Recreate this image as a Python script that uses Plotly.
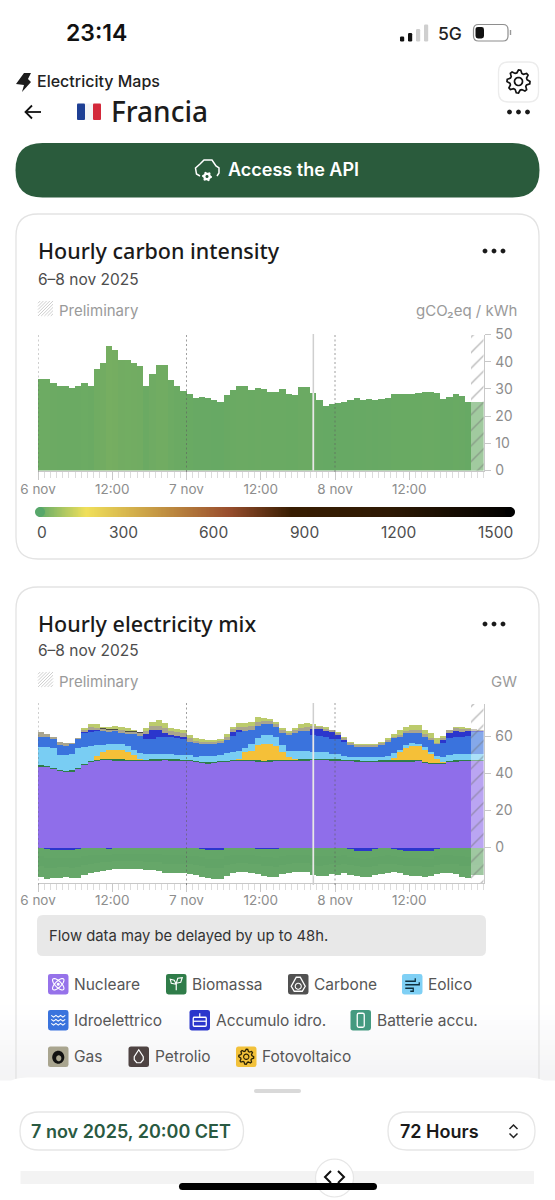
import math
import pandas as pd
import plotly.graph_objects as go

W, H = 555, 1200

hours = pd.date_range("2025-11-06", periods=72, freq="h").strftime("%Y-%m-%d %H:%M").tolist()
tick_vals = ["2025-11-06 00:00", "2025-11-06 12:00", "2025-11-07 00:00", "2025-11-07 12:00", "2025-11-08 00:00", "2025-11-08 12:00"]
tick_text = ["6 nov", "12:00", "7 nov", "12:00", "8 nov", "12:00"]

carbon = [33.5,33.8,32.0,31.0,31.0,30.5,31.0,32.2,31.2,37.4,39.6,45.7,
          44.2,40.6,40.8,39.7,38.6,31.1,35.5,38.7,38.7,33.1,31.2,29.4,
          28.0,26.8,27.0,26.8,26.0,25.2,27.7,29.5,30.9,31.2,29.7,30.4,
          29.9,29.0,29.0,30.1,28.0,27.9,30.6,30.6,28.6,25.9,23.7,24.6,
          24.9,25.2,26.1,26.8,26.0,26.4,26.1,26.2,26.8,28.2,28.3,28.3,
          28.2,28.4,28.8,28.9,28.4,26.2,27.2,28.2,27.5,25.1,25.1,25.1]

nuclear = [43.8,43.3,42.5,41.5,40.9,41.1,42.5,44.7,46.0,46.9,47.2,47.2,
           47.0,47.0,46.9,46.7,46.7,46.9,47.0,47.0,47.2,47.0,47.0,46.9,
           46.7,46.2,45.6,45.4,45.6,46.0,46.3,46.7,46.9,46.9,46.7,46.5,
           46.3,46.5,46.7,46.7,46.9,46.9,47.0,47.0,47.1,47.2,47.1,47.0,
           47.0,46.9,46.9,46.5,46.3,46.3,46.3,46.4,46.4,46.5,46.5,46.5,
           46.5,46.7,45.8,45.2,45.0,45.2,46.1,46.5,46.7,46.7,46.7,46.7]
biomass = [0.7,0.7,0.7,0.7,0.7,0.7,0.7,0.7,0.7,0.7,0.7,0.7,
           0.7,0.7,0.7,0.7,0.7,0.7,0.7,0.7,0.7,0.7,0.7,0.7,
           0.7,0.7,0.7,0.7,0.7,0.7,0.7,0.7,0.7,0.7,0.7,0.7,
           0.7,0.7,0.7,0.7,0.7,0.7,0.7,0.7,0.7,0.7,0.7,0.7,
           0.7,0.7,0.7,0.7,0.7,0.7,0.7,0.7,0.7,0.7,0.7,0.7,
           0.7,0.7,0.7,0.7,0.7,0.7,0.7,0.7,0.7,0.7,0.7,0.7]
solar = [0,0,0,0,0,0,0,0,0.3,2.0,3.8,5.0,
         5.2,5.0,4.2,2.4,0.7,0,0,0,0,0,0,0,
         0,0,0,0,0,0,0,0,0.3,3.8,5.0,8.0,
         8.8,8.8,7.6,4.2,1.6,0.2,0,0,0,0,0,0,
         0,0,0,0,0,0,0,0,0,1.0,4.3,6.7,
         7.7,7.5,6.3,4.5,2.0,0.5,0,0,0,0,0,0]
wind = [10.1,10.6,10.5,7.9,8.5,8.6,10.5,9.2,8.1,5.9,3.8,3.2,
        3.2,3.4,2.9,3.1,2.9,2.9,2.7,2.7,2.5,2.7,2.5,2.7,
        2.7,2.3,3.4,3.6,3.4,3.4,4.0,4.5,4.3,2.3,3.4,4.0,
        5.0,4.9,4.5,4.0,3.1,4.5,4.5,4.5,4.1,4.0,3.6,3.1,
        2.7,1.8,1.4,1.6,1.8,1.8,1.8,2.0,2.3,2.7,1.3,1.6,
        1.4,1.2,1.8,1.4,2.0,2.7,3.2,3.6,3.4,3.4,3.4,3.4]
hydro = [5.4,5.4,4.9,5.4,5.0,5.4,4.9,7.2,7.6,7.6,7.6,6.5,
         6.7,6.1,6.8,8.5,9.5,8.3,8.3,9.5,9.5,9.2,8.8,8.5,
         7.2,7.2,6.3,6.3,6.3,6.3,7.2,8.6,10.5,9.4,7.7,6.3,
         5.8,5.8,5.8,6.3,8.3,9.9,10.8,10.8,9.2,8.6,8.5,8.1,
         8.3,7.7,6.5,5.8,5.8,5.8,5.8,6.5,7.9,8.1,7.2,6.3,
         5.9,5.8,5.4,6.3,6.1,7.2,9.0,8.8,9.2,9.7,11.5,11.5]
storage_gen = [0,0,0,0,0,0,0,0.5,0.9,0.3,0,0,
               0,0,0,0,0,2.5,4.9,3.6,2.3,1.3,1.3,1.1,
               0,0,0,0,0,0,0,2.2,0.9,0,0,0,
               0,0,0,0,0,0,0,0,3.2,3.4,3.2,3.6,
               2.2,0.9,0,0,0,0,0,0,0,0,0,0,
               0,0,0,0,0,1.8,3.2,3.4,2.7,2.5,0.7,0.5]
gas = [2.3,1.4,1.1,1.3,1.3,0.9,0.6,1.3,1.4,1.4,1.0,1.0,
       1.0,1.1,1.2,1.2,1.3,1.7,1.9,2.3,2.3,2.3,2.2,2.2,
       1.8,1.3,1.2,1.1,1.1,1.1,1.5,1.5,1.8,2.0,2.0,2.2,
       2.0,1.8,1.6,1.6,1.5,1.6,1.8,2.0,1.5,1.2,1.1,1.0,
       1.0,1.0,1.0,0.9,0.9,0.9,0.9,0.8,0.8,0.9,1.1,1.3,
       1.5,1.5,1.3,1.0,0.8,1.0,1.3,1.5,1.6,1.3,0.9,0.6]
coal = [0,0,0,0,0,0,0,0,0,0,0.4,0.4,
        0.4,0.4,0.5,0.5,0.5,0,0,0,0,0,0,0,
        0,0,0,0,0,0,0,0,0,0,0,0,
        0,0,0,0,0,0,0,0,0,0,0,0,
        0,0,0,0,0,0,0,0,0,0,0,0,
        0,0,0,0,0,0,0,0,0,0,0,0]
imports = [0,0,0,0,0,0,0,1.2,1.8,1.8,0.9,1.1,
           1.5,1.5,1.3,0.6,0,1.5,2.2,2.9,2.6,1.3,1.4,1.2,
           1.8,1.4,1.5,1.1,1.1,1.1,1.6,1.2,1.8,2.5,2.5,2.7,
           1.6,1.1,1.1,1.1,1.0,1.1,1.8,2.3,1.2,0.8,1.1,0.3,
           0.4,0.8,0.8,0.7,0.7,0.7,0.7,0.5,1.0,1.3,2.5,2.3,
           2.5,2.6,2.3,2.6,2.4,1.3,0.3,0.5,0.7,0.3,0.2,0.1]
storage_pump = [0,-1.0,-1.1,-1.1,-1.1,-1.1,-1.0,0,0,0,0,-0.6,
                0,0,0,0,0,0,0,0,0,0,0,0,
                0,0,-0.6,-1.3,-1.5,-1.5,-0.3,0,0,0,0,-0.5,
                -0.9,-0.9,-1.0,-0.4,0,0,0,0,0,0,0,0,
                0,0,-0.8,-1.6,-2.0,-1.6,-0.9,0,0,-0.8,-1.5,-1.6,
                -1.8,-1.8,-2.0,-1.8,-0.8,0,0,0,0,0,0,0]
export_a = [-4.8,-4.8,-4.7,-4.6,-4.5,-4.6,-4.6,-4.4,-4.1,-4.0,-3.8,-3.4,
            -3.5,-3.5,-3.4,-3.4,-3.5,-3.6,-3.6,-3.7,-4.2,-4.2,-4.1,-4.1,
            -4.3,-4.4,-4.5,-4.6,-4.6,-4.6,-4.4,-4.2,-3.9,-4.0,-4.2,-4.1,
            -4.3,-4.4,-4.5,-4.2,-4.1,-3.9,-3.9,-3.9,-4.4,-4.7,-4.6,-4.3,
            -4.4,-4.2,-4.2,-4.1,-4.1,-4.2,-4.2,-4.3,-4.1,-3.8,-3.7,-4.0,
            -4.0,-4.0,-4.1,-4.1,-4.0,-4.2,-4.2,-4.3,-4.7,-4.9,-4.4,-4.4]
export_b = [-5.3,-5.3,-5.1,-5.0,-5.0,-5.1,-5.0,-4.9,-4.5,-4.4,-4.2,-3.7,
            -3.8,-3.8,-3.8,-3.8,-3.9,-4.0,-4.0,-4.1,-4.6,-4.6,-4.5,-4.5,
            -4.8,-4.9,-5.0,-5.0,-5.1,-5.0,-4.9,-4.6,-4.3,-4.4,-4.6,-4.5,
            -4.8,-4.9,-4.9,-4.6,-4.5,-4.3,-4.3,-4.3,-4.9,-5.1,-5.0,-4.7,
            -4.9,-4.6,-4.6,-4.5,-4.5,-4.7,-4.6,-4.7,-4.5,-4.1,-4.1,-4.4,
            -4.4,-4.4,-4.5,-4.5,-4.4,-4.6,-4.6,-4.7,-5.2,-5.3,-4.9,-4.9]
export_c = [-5.9,-6.0,-5.8,-5.6,-5.5,-5.7,-5.6,-5.5,-4.9,-4.9,-4.6,-4.2,
            -4.2,-4.2,-4.2,-4.2,-4.3,-4.5,-4.5,-4.6,-5.1,-5.1,-4.9,-5.1,
            -5.3,-5.5,-5.6,-5.7,-5.7,-5.7,-5.5,-5.1,-4.8,-4.9,-5.1,-5.0,
            -5.3,-5.5,-5.5,-5.2,-4.9,-4.8,-4.8,-4.8,-5.5,-5.7,-5.7,-5.2,
            -5.5,-5.1,-5.2,-5.1,-5.1,-5.2,-5.1,-5.2,-4.9,-4.6,-4.6,-4.8,
            -4.9,-4.9,-5.1,-4.9,-5.0,-5.1,-5.1,-5.2,-5.8,-6.0,-5.5,-5.5]

scale_levels = list(range(0, 1501, 5))
scale_labels = [("0", 42), ("300", 123), ("600", 213), ("900", 304), ("1200", 398), ("1500", 495)]

legend_rows = [
    ("Nucleare", 48, 974), ("Biomassa", 166, 974), ("Carbone", 288, 974), ("Eolico", 402, 974),
    ("Idroelettrico", 48, 1010), ("Accumulo idro.", 189.5, 1010), ("Batterie accu.", 350.5, 1010),
    ("Gas", 48, 1046.5), ("Petrolio", 128.5, 1046.5), ("Fotovoltaico", 236, 1046.5),
]

HOUR_MS = 3600000
TXT = "Inter, sans-serif"
HEAD = "'Noto Sans', sans-serif"
GREY = "#8d8d8d"
AXIS = "#c8c8c8"

def X(v): return v / W
def Y(v): return 1 - v / H

shapes, notes = [], []

def text(s, x, y, size, color="#222", font=TXT, weight=400, anchor="left"):
    notes.append(dict(text=s, x=X(x), y=Y(y), xref="paper", yref="paper", xanchor=anchor, yanchor="middle",
                      showarrow=False, borderpad=0, borderwidth=0,
                      font=dict(family=font, size=size, color=color, weight=weight)))

def path(d, fill=None, line=None, lw=1.0, layer="above"):
    s = dict(type="path", path=d, xref="paper", yref="paper", layer=layer,
             line=dict(color=line or "rgba(0,0,0,0)", width=lw if line else 0))
    if fill:
        s["fillcolor"] = fill
    shapes.append(s)

def P(x, y): return f"{X(x):.5f},{Y(y):.5f}"

def rr(x0, y0, x1, y1, r, fill=None, line=None, lw=1.0, layer="above"):
    d = (f"M{P(x0+r,y0)} L{P(x1-r,y0)} Q{P(x1,y0)} {P(x1,y0+r)} L{P(x1,y1-r)} Q{P(x1,y1)} {P(x1-r,y1)} "
         f"L{P(x0+r,y1)} Q{P(x0,y1)} {P(x0,y1-r)} L{P(x0,y0+r)} Q{P(x0,y0)} {P(x0+r,y0)} Z")
    path(d, fill, line, lw, layer)

def poly(pts, fill=None, line=None, lw=1.0, close=True, layer="above"):
    d = "M" + " L".join(P(*p) for p in pts) + (" Z" if close else "")
    path(d, fill, line, lw, layer)

def ell(cx, cy, a, b, rot=0, fill=None, line=None, lw=1.0):
    pts = []
    for i in range(36):
        t = 2 * math.pi * i / 36
        ex, ey = a * math.cos(t), b * math.sin(t)
        c, s = math.cos(rot), math.sin(rot)
        pts.append((cx + ex * c - ey * s, cy + ex * s + ey * c))
    poly(pts, fill, line, lw)

def gear(cx, cy, r, teeth, fill=None, line=None, lw=1.0):
    pts = []
    for i in range(teeth * 4):
        t = 2 * math.pi * i / (teeth * 4)
        rad = r if i % 4 in (0, 1) else r * 0.76
        pts.append((cx + rad * math.cos(t), cy + rad * math.sin(t)))
    poly(pts, fill, line, lw)

def dots(cx, cy):
    for dx in (-9, 0, 9):
        ell(cx + dx, cy, 2.4, 2.4, fill="#1a1a1a")

def hatch_icon(x, y):
    for i in range(5):
        poly([(x + i * 3.2, y + 15), (x + 15, y + i * 3.2)], line="#cfcfcf", lw=1, close=False)
        poly([(x, y + 15 - i * 3.2), (x + 15 - i * 3.2, y)], line="#cfcfcf", lw=1, close=False)

# fade behind the bottom sheet
for i in range(16):
    v = 255 - i * 0.75
    y0 = 1000 + i * 5
    shapes.append(dict(type="rect", xref="paper", yref="paper", x0=0, x1=1, y0=Y(y0), y1=Y(y0 + 5.5),
                       fillcolor=f"rgb({v:.0f},{v:.0f},{min(255, v+1):.0f})", line_width=0, layer="below"))

# status bar
text("23:14", 66, 33, 23, "#111", weight=600)
for x0, top, col in [(400, 36.5, "#111"), (408, 33, "#111"), (416, 29, "#cfcfcf"), (424, 24.5, "#cfcfcf")]:
    rr(x0, top, x0 + 4.2, 41.5, 1.2, fill=col)
text("5G", 438, 34, 17.5, "#222", weight=500)
rr(473.5, 24.5, 508, 41, 5, line="#8e8e8e", lw=1.2)
rr(475.5, 27, 484, 38.5, 2.5, fill="#111")
poly([(510.5, 30), (510.5, 35)], line="#999", lw=1.4, close=False)

# app header
poly([(24, 73), (31, 73), (28, 79), (31, 82), (22, 92), (24, 85), (16, 84)], fill="#1c1c1c")
text("Electricity Maps", 37, 81, 16, "#222", weight=500)
rr(498.5, 62, 538.5, 102, 10, fill="#fff", line="#ececec", lw=1.3)
gear(518.5, 81.5, 11.5, 8, line="#111", lw=1.7)
ell(518.5, 81.5, 4, 4, line="#111", lw=1.7)
poly([(41, 112), (26, 112)], line="#111", lw=1.8, close=False)
poly([(32, 105.5), (25.5, 112), (32, 118.5)], line="#111", lw=1.8, close=False)
rr(77, 103.5, 85, 120, 1, fill="#1e3f94")
shapes.append(dict(type="rect", xref="paper", yref="paper", x0=X(85), x1=X(93), y0=Y(120), y1=Y(103.5), fillcolor="#f4f4f6", line_width=0))
rr(93, 103.5, 101, 120, 1, fill="#d3283a")
text("Francia", 110.5, 111.5, 28, "#1c1c1c", font=HEAD, weight=500)
dots(518.5, 112)

# API button
rr(15.5, 143, 539.5, 197.5, 27, fill="#2a5b3c")
poly([(200, 176), (196.5, 174), (195.5, 168), (200, 164), (204, 160), (212, 160), (216, 166), (219, 168), (219, 173), (217, 176)],
     line="#fff", lw=1.5, close=False)
gear(207, 176.5, 5, 6, fill="#fff")
ell(207, 176.5, 1.5, 1.5, fill="#2a5b3c")
text("Access the API", 228, 170, 18, "#fff", weight=600)

# cards
rr(16, 214, 539, 559, 22, line="#e3e3e3", lw=1.3, layer="below")
rr(16, 587, 539, 1110, 22, line="#e3e3e3", lw=1.3, layer="below")

# card 1 header
text("Hourly carbon intensity", 38, 250, 21.5, "#1a1a1a", font=HEAD, weight=500)
text("6–8 nov 2025", 38, 279, 15.5, "#4d4d4d")
hatch_icon(38, 301)
text("Preliminary", 58.5, 310.5, 15, "#9a9a9a")
text("gCO₂eq / kWh", 517, 310.5, 15, "#9a9a9a", anchor="right")
dots(494, 251)

# card 2 header
text("Hourly electricity mix", 38, 623.5, 21.5, "#1a1a1a", font=HEAD, weight=500)
text("6–8 nov 2025", 38, 650, 15.5, "#4d4d4d")
hatch_icon(38, 672)
text("Preliminary", 58.5, 681, 15, "#9a9a9a")
text("GW", 517, 681, 15, "#9a9a9a", anchor="right")
dots(494, 624)

fig = go.Figure()

bar_scale = [[0, "rgb(84,163,103)"], [0.1, "rgb(196,198,84)"], [1, "rgb(0,0,0)"]]
fig.add_trace(go.Bar(x=hours, y=carbon, width=HOUR_MS, offset=0, xaxis="x", yaxis="y", showlegend=False,
                     marker=dict(color=carbon, colorscale=bar_scale, cmin=0, cmax=1500, line_width=0)))

stack = [
    ("Nucleare", nuclear, "#8f6eea"), ("Biomassa", biomass, "#2f7c49"), ("Fotovoltaico", solar, "#f5c038"),
    ("Eolico", wind, "#79cdf3"), ("Idroelettrico", hydro, "#3a73dd"), ("Accumulo idro.", storage_gen, "#2b36cc"),
    ("Gas", gas, "#a9a58f"), ("Carbone", coal, "#4e4e46"), ("Import", imports, "#bccb6c"),
    ("Accumulo idro.", storage_pump, "#2b36cc"), ("Export 1", export_a, "#64a668"),
    ("Export 2", export_b, "#62a467"), ("Export 3", export_c, "#66a769"),
]
for name, vals, col in stack:
    fig.add_trace(go.Bar(x=hours, y=vals, width=HOUR_MS, offset=0, name=name, xaxis="x2", yaxis="y2", showlegend=False,
                         marker=dict(color=col, line_width=0)))

hatch = dict(color="rgba(255,255,255,0.38)", line_width=0,
             pattern=dict(shape="/", size=11, solidity=0.12, fgcolor="#6f6f6f", fgopacity=0.5, bgcolor="rgba(255,255,255,0.38)"))
for ya in ("y3", "y4"):
    fig.add_trace(go.Bar(x=[hours[70]], y=[1], width=2 * HOUR_MS, offset=0, xaxis="x" if ya == "y3" else "x2", yaxis=ya,
                         showlegend=False, marker=hatch))

fig.add_trace(go.Heatmap(x=scale_levels, y=[0, 1], z=[scale_levels, scale_levels], xaxis="x3", yaxis="y5", showscale=False, zmin=0, zmax=1500,
                         zsmooth="best",
                         colorscale=[[0, "#57a76a"], [0.105, "#f0e05a"], [0.4, "#9a4f2e"], [0.533, "#381d02"], [0.733, "#2f1a04"], [1, "#000000"]]))
ell(40, 512, 5, 5, fill="#57a76a")
ell(510, 512, 5, 5, fill="#000000")
for s, x in scale_labels:
    text(s, x, 533, 15.5, "#4d4d4d", anchor="center")

x_ax = dict(type="date", range=[hours[0], "2025-11-09 00:00"], tickmode="array", tickvals=tick_vals, ticktext=tick_text,
            ticks="outside", ticklen=8, tickwidth=1, tickcolor=AXIS, showgrid=False, zeroline=False, showline=True, automargin=False,
            linecolor=AXIS, linewidth=1, tickfont=dict(family=TXT, size=13.5, color=GREY),
            minor=dict(ticks="outside", ticklen=6, tickwidth=1, tickcolor="#dcdcdc", dtick=HOUR_MS, tick0=hours[0], showgrid=False))
y_ax = dict(side="right", ticks="outside", ticklen=6, tickwidth=1, tickcolor=AXIS, showgrid=False, zeroline=False, automargin=False,
            showline=True, linecolor=AXIS, linewidth=1, tickfont=dict(family=TXT, size=14, color=GREY), ticklabelstandoff=2)

# day boundaries and selected hour
for ax, top, bottom, yname, val_top, val_bot in [("x", 333, 472, "y", 28.6, 0), ("x2", 702, 885, "y2", 67, -15.5)]:
    for d in ("2025-11-06 00:00", "2025-11-07 00:00", "2025-11-08 00:00"):
        shapes.append(dict(type="line", xref=ax, yref="paper", x0=d, x1=d, y0=Y(bottom), y1=Y(top),
                           line=dict(color="rgba(95,95,95,0.6)", width=1, dash="2px,2.5px"), layer="above"))
    cur = "2025-11-07 20:30"
    shapes.append(dict(type="line", xref=ax, yref="paper", x0=cur, x1=cur, y0=Y(bottom), y1=Y(top + 1),
                       line=dict(color="#cfcfcf", width=1.5), layer="above"))
    shapes.append(dict(type="line", xref=ax, yref=yname, x0=cur, x1=cur, y0=val_bot, y1=val_top,
                       line=dict(color="#e8e8e8", width=1.5), layer="above"))

# flow note
rr(37, 915, 486, 956, 6, fill="#e8e8e8", layer="below")
text("Flow data may be delayed by up to 48h.", 49, 935.5, 14.8, "#333")

# legend
ICON = {"Nucleare": "#9672ea", "Biomassa": "#2f7c49", "Carbone": "#515151", "Eolico": "#7fd0f5", "Idroelettrico": "#3a73dd",
        "Accumulo idro.": "#2b36cc", "Batterie accu.": "#449a80", "Gas": "#a9a58f", "Petrolio": "#4e4342", "Fotovoltaico": "#f2c13a"}
for name, x, y in legend_rows:
    rr(x, y, x + 20.5, y + 20.5, 2.5, fill=ICON[name])
    cx, cy = x + 10.25, y + 10.25
    if name == "Nucleare":
        ell(cx, cy, 7.5, 3, rot=math.pi / 4, line="#fff", lw=1.1)
        ell(cx, cy, 7.5, 3, rot=-math.pi / 4, line="#fff", lw=1.1)
        ell(cx, cy, 1.5, 1.5, fill="#fff")
    elif name == "Biomassa":
        poly([(cx, cy + 6), (cx, cy - 1)], line="#fff", lw=1.2, close=False)
        poly([(cx, cy), (cx - 5, cy - 1), (cx - 6, cy - 5), (cx - 2, cy - 4), (cx, cy)], line="#fff", lw=1.1, close=False)
        poly([(cx, cy - 1), (cx + 1.5, cy - 6), (cx + 6, cy - 6.5), (cx + 4.5, cy - 2), (cx, cy - 1)], line="#fff", lw=1.1, close=False)
    elif name == "Carbone":
        poly([(cx - 2, cy - 7), (cx + 2, cy - 7), (cx + 7, cy + 2), (cx + 4, cy + 7), (cx - 4, cy + 7), (cx - 7, cy + 2)], line="#fff", lw=1.3)
        ell(cx, cy + 2, 3, 3, line="#fff", lw=1.1)
    elif name == "Eolico":
        poly([(cx - 7, cy - 3), (cx + 3, cy - 3), (cx + 3, cy - 6)], line="#10303f", lw=1.3, close=False)
        poly([(cx - 7, cy + 0.5), (cx + 7, cy + 0.5), (cx + 7, cy - 2)], line="#10303f", lw=1.3, close=False)
        poly([(cx - 7, cy + 4), (cx + 1, cy + 4), (cx + 1, cy + 7), (cx - 2, cy + 7)], line="#10303f", lw=1.3, close=False)
    elif name == "Idroelettrico":
        for dy in (-4, 0, 4):
            poly([(cx - 7 + i * 2.33, cy + dy + (0.9 if i % 2 else -0.9)) for i in range(7)], line="#fff", lw=1.1, close=False)
    elif name == "Accumulo idro.":
        rr(cx - 6.5, cy - 3, cx + 6.5, cy + 6, 1, line="#fff", lw=1.3)
        poly([(cx - 6.5, cy + 1), (cx + 6.5, cy + 1)], line="#fff", lw=1.2, close=False)
        poly([(cx, cy - 3), (cx, cy - 7)], line="#fff", lw=1.2, close=False)
    elif name == "Batterie accu.":
        rr(cx - 3.5, cy - 7, cx + 3.5, cy + 7, 1.5, line="#fff", lw=1.3)
    elif name == "Gas":
        ell(cx, cy + 0.5, 6, 6.5, fill="#111")
        ell(cx + 0.5, cy + 1.5, 2.6, 3, fill="#a9a58f")
    elif name == "Petrolio":
        poly([(cx, cy - 7), (cx + 4.5, cy), (cx + 4.5, cy + 3), (cx + 2, cy + 6), (cx - 2, cy + 6), (cx - 4.5, cy + 3), (cx - 4.5, cy)], line="#fff", lw=1.2)
    elif name == "Fotovoltaico":
        gear(cx, cy, 7.5, 8, line="#2a2205", lw=1.3)
        ell(cx, cy, 2.6, 2.6, line="#2a2205", lw=1.2)
    text(name, x + 26.3, y + 10.2, 15.5, "#565656")

# bottom sheet
path(f"M{P(0,1200)} L{P(0,1103)} Q{P(0,1077.5)} {P(27,1077.5)} L{P(528,1077.5)} Q{P(555,1077.5)} {P(555,1103)} L{P(555,1200)} Z", fill="#fff")
rr(254, 1089, 301, 1093, 2, fill="#d9d9d9")
rr(20, 1112, 243.5, 1150, 19, fill="#fff", line="#e6e6e6", lw=1.3)
text("7 nov 2025, 20:00 CET", 31, 1131, 18, "#2a5a42", weight=600)
rr(388, 1112, 535, 1150, 19, fill="#fff", line="#e6e6e6", lw=1.3)
text("72 Hours", 399.5, 1131, 18, "#1a1a1a", weight=600)
poly([(509.5, 1129), (513.5, 1125), (517.5, 1129)], line="#222", lw=1.5, close=False)
poly([(509.5, 1133.5), (513.5, 1137.5), (517.5, 1133.5)], line="#222", lw=1.5, close=False)
rr(20.5, 1171, 534, 1184, 0.5, fill="#f3f3f3")
ell(334.5, 1178, 19, 19, fill="#fff", line="#e6e6e6", lw=1.2)
poly([(331, 1171), (325, 1177), (331, 1183)], line="#111", lw=2, close=False)
poly([(338, 1171), (344, 1177), (338, 1183)], line="#111", lw=2, close=False)
rr(179, 1183, 377, 1190, 3.5, fill="#000")

fig.update_layout(
    width=W, height=H, autosize=False, margin=dict(l=0, r=0, t=0, b=0, pad=0),
    paper_bgcolor="#fff", plot_bgcolor="rgba(0,0,0,0)", barmode="relative", bargap=0, showlegend=False,
    shapes=shapes, annotations=notes, font=dict(family=TXT),
    xaxis=dict(x_ax, domain=[X(38), X(483.5)], anchor="y", ticklabelstandoff=-2),
    xaxis2=dict(x_ax, domain=[X(38), X(483.5)], anchor="y2", ticklabelstandoff=-4),
    xaxis3=dict(domain=[X(40), X(510)], range=[15.6, 1484.4], anchor="y5", visible=False, automargin=False),
    yaxis=dict(y_ax, domain=[Y(470.5), Y(334.5)], range=[0, 50], tickvals=[0, 10, 20, 30, 40, 50], anchor="x"),
    yaxis2=dict(y_ax, domain=[Y(883.3), Y(704)], range=[-19.3, 77.6], tickvals=[0, 20, 40, 60], anchor="x2"),
    yaxis3=dict(overlaying="y", range=[0, 1], visible=False, anchor="x", automargin=False),
    yaxis4=dict(overlaying="y2", range=[0, 1], visible=False, anchor="x2", automargin=False),
    yaxis5=dict(domain=[Y(517), Y(507)], range=[0, 1], visible=False, anchor="x3", automargin=False),
)

fig.write_html("out.html", config=dict(displayModeBar=False, staticPlot=True),
               post_script="document.body.style.margin='0';")
